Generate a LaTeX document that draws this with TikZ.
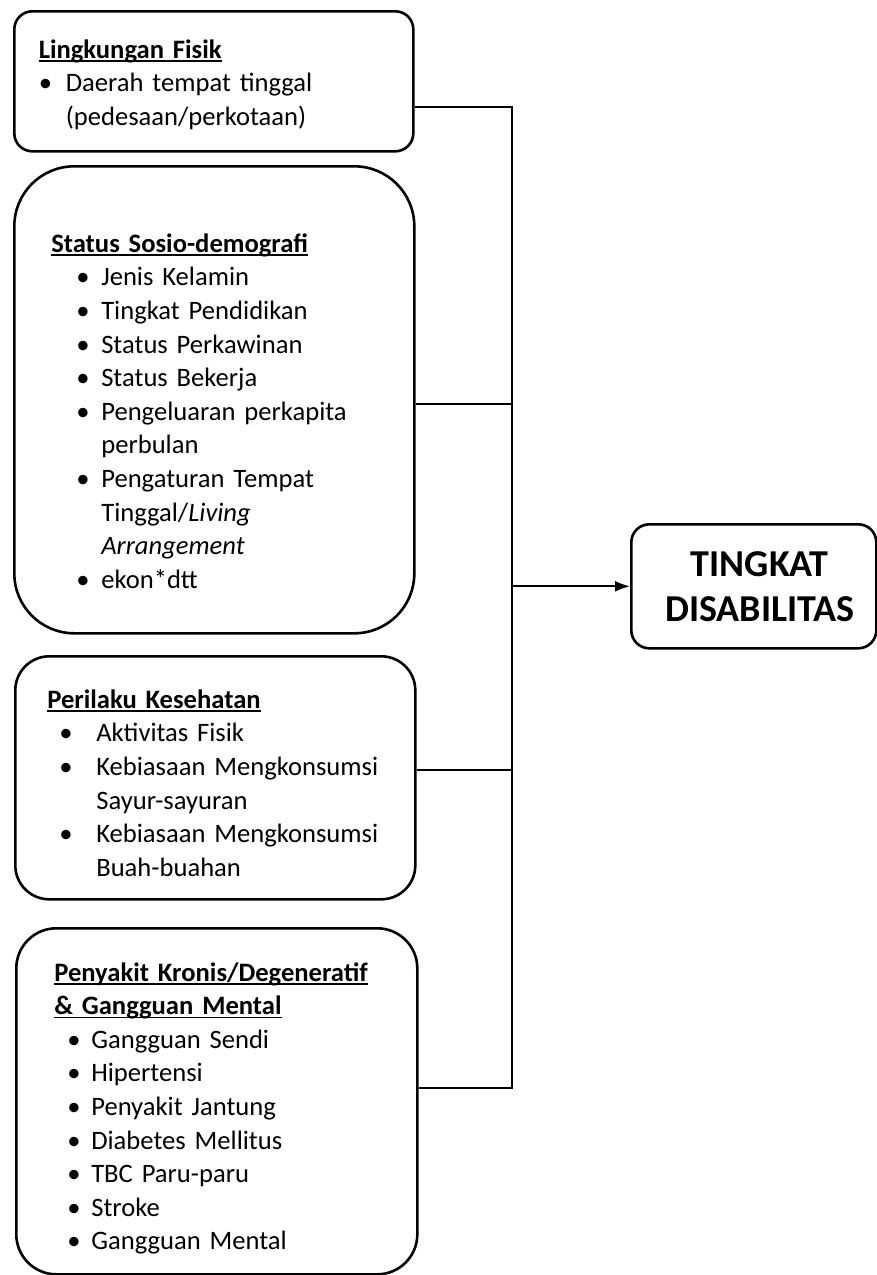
\documentclass[tikz,border=0pt]{standalone}
\usepackage{fontspec}
\setmainfont{Carlito}
\usetikzlibrary{arrows.meta}

\newlength{\bulx}
\newlength{\bulw}
\newsavebox{\judulbox}
% heading: bold with a rule just under the baseline
\newcommand{\judul}[1]{\sbox{\judulbox}{\bfseries #1}\mbox{\rlap{\usebox{\judulbox}}\rule[-1.8pt]{\wd\judulbox}{0.9pt}}}
\newcommand{\pnt}[1]{\mbox{\hspace*{\bulx}\makebox[\bulw][l]{\textbullet}#1}}
\newcommand{\lnj}[1]{\mbox{\hspace*{\bulx}\hspace*{\bulw}#1}}
% extra room above the first line, pushes the text block down by half of it
\newcommand{\turun}[1]{\rule{0pt}{\dimexpr 9.5pt+#1\relax}}

\tikzset{
  faktor/.style={draw, line width=1.3pt, anchor=north west, align=left,
    font=\fontsize{13.3}{16.8}\selectfont, inner ysep=0pt},
  garis/.style={line width=1pt},
  panah/.style={line width=1pt, -{Latex[length=7.5pt,width=5.5pt]}},
}

\begin{document}
\begin{tikzpicture}[x=0.5pt, y=-0.5pt]
\useasboundingbox (0,0) rectangle (877,1275);

\node[faktor, rounded corners=9pt, minimum width=199.5pt, minimum height=70pt,
  text width=175pt, inner xsep=12.25pt] (fisik) at (13,10)
  {\setlength{\bulx}{0pt}\setlength{\bulw}{13.5pt}%
   \turun{3pt}\judul{Lingkungan Fisik}\\
   \pnt{Daerah tempat tinggal}\\
   \lnj{(pedesaan/perkotaan)}};

\node[faktor, rounded corners=30pt, minimum width=200pt, minimum height=233.5pt,
  text width=163pt, inner xsep=18.5pt] (sosio) at (13,165)
  {\setlength{\bulx}{12.5pt}\setlength{\bulw}{12.5pt}%
   \turun{11pt}\judul{Status Sosio-demografi}\\
   \pnt{Jenis Kelamin}\\
   \pnt{Tingkat Pendidikan}\\
   \pnt{Status Perkawinan}\\
   \pnt{Status Bekerja}\\
   \pnt{Pengeluaran perkapita}\\
   \lnj{perbulan}\\
   \pnt{Pengaturan Tempat}\\
   \lnj{Tinggal/\textit{Living}}\\
   \lnj{\textit{Arrangement}}\\
   \pnt{ekon*dtt}};

\node[faktor, rounded corners=17pt, minimum width=200pt, minimum height=121.5pt,
  text width=168pt, inner xsep=16pt] (perilaku) at (14,655)
  {\setlength{\bulx}{6pt}\setlength{\bulw}{18.5pt}%
   \turun{5pt}\judul{Perilaku Kesehatan}\\
   \pnt{Aktivitas Fisik}\\
   \pnt{Kebiasaan Mengkonsumsi}\\
   \lnj{Sayur-sayuran}\\
   \pnt{Kebiasaan Mengkonsumsi}\\
   \lnj{Buah-buahan}};

\node[faktor, rounded corners=20pt, minimum width=200.5pt, minimum height=173pt,
  text width=162.5pt, inner xsep=19pt] (penyakit) at (15,927)
  {\setlength{\bulx}{6.5pt}\setlength{\bulw}{12pt}%
   \turun{7pt}\judul{Penyakit Kronis/Degeneratif}\\
   \judul{\& Gangguan Mental}\\
   \pnt{Gangguan Sendi}\\
   \pnt{Hipertensi}\\
   \pnt{Penyakit Jantung}\\
   \pnt{Diabetes Mellitus}\\
   \pnt{TBC Paru-paru}\\
   \pnt{Stroke}\\
   \pnt{Gangguan Mental}};

\node[draw, line width=1.3pt, rounded corners=9pt, anchor=north west,
  minimum width=122.5pt, minimum height=62pt, align=center,
  font=\fontsize{19}{22.5}\selectfont\bfseries] (hasil) at (630,523)
  {\hspace*{6pt}TINGKAT\\\hspace*{6pt}DISABILITAS};

\coordinate (bus) at ([xshift=-59pt]hasil.west);

% every factor joins the bus, the bus points to the outcome
\draw[garis] ([yshift=-13pt]fisik.east) -| (bus);
\draw[garis] ([yshift=-2pt]sosio.east) -| (bus);
\draw[garis] ([yshift=4pt]perilaku.east) -| (bus);
\draw[garis] ([yshift=6.5pt]penyakit.east) -| (bus);
\draw[panah] (bus) -- (hasil.west);
\end{tikzpicture}
\end{document}
